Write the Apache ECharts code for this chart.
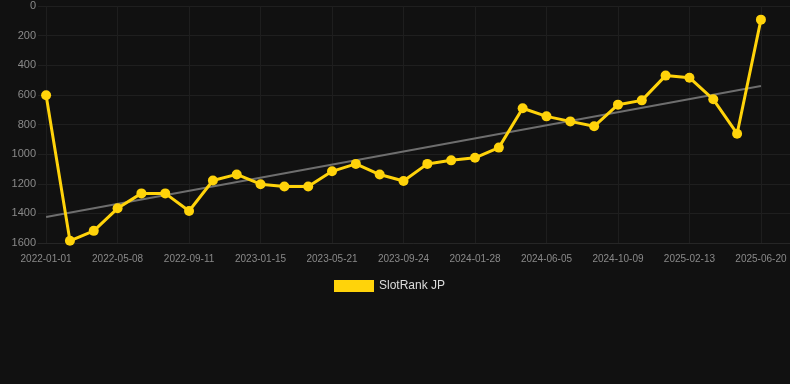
<!DOCTYPE html>
<html>
<head>
<meta charset="utf-8">
<script src="https://cdn.jsdelivr.net/npm/echarts@6/dist/echarts.min.js"></script>
<style>
    html, body { margin: 0; padding: 0; background: #111111; }
    #rankChart { width: 790px; height: 384px; }
</style>
</head>
<body>
<div id="rankChart"></div>
<script>
var seriesName = 'SlotRank JP';
var lineColor = '#FFD30A';
var trendColor = '#6E6E6E';

var dates = ['2022-01-01','2022-02-12','2022-03-26','2022-05-08','2022-06-19','2022-07-31',
    '2022-09-11','2022-10-23','2022-12-04','2023-01-15','2023-02-26','2023-04-09',
    '2023-05-21','2023-07-02','2023-08-13','2023-09-24','2023-11-05','2023-12-17',
    '2024-01-28','2024-03-11','2024-04-23','2024-06-05','2024-07-17','2024-08-28',
    '2024-10-09','2024-11-20','2025-01-01','2025-02-13','2025-03-27','2025-05-08',
    '2025-06-20'];
var ranks = [602,1585,1518,1366,1265,1265,1384,1178,1137,1203,
    1219,1219,1116,1066,1138,1181,1066,1042,1025,956,
    690,745,779,812,666,637,470,484,630,862,
    92];
// trend line: only the two ends
var trendEnds = [1425, 540];

var yTicks = [0, 200, 400, 600, 800, 1000, 1200, 1400, 1600];
// every third date gets a label
var labelIdx = [0, 3, 6, 9, 12, 15, 18, 21, 24, 27, 30];

window.onload = function () {
    drawRank('rankChart');
};

function drawRank(mid) {
    var rankData = ranks.map(function (v, i) { return [i, v]; });
    var trendData = [[0, trendEnds[0]], [dates.length - 1, trendEnds[1]]];

    var chart = echarts.init(document.getElementById(mid));
    var option = {
        backgroundColor: '#111111',
        animation: false,
        textStyle: { fontFamily: 'Liberation Sans, Arial, sans-serif' },
        grid: {
            left: 38,
            right: 0,
            top: 6,
            bottom: 141
        },
        legend: {
            top: 275,
            left: 329,
            itemWidth: 40,
            itemHeight: 12,
            data: [{ name: seriesName, icon: 'rect' }],
            textStyle: {
                color: '#dddddd',
                fontSize: 12
            }
        },
        xAxis: {
            type: 'value',
            // a little padding on both sides, as in the original
            min: -0.34,
            max: 31.22,
            axisTick: { show: false, customValues: labelIdx },
            axisLine: {
                show: true,
                onZero: false,
                lineStyle: { color: '#262626' }
            },
            axisLabel: {
                customValues: labelIdx,
                color: '#8a8a8a',
                fontSize: 10,
                margin: 11,
                formatter: function (v) { return dates[Math.round(v)] || ''; }
            },
            splitLine: {
                show: true,
                lineStyle: { color: '#1e1e1e' }
            }
        },
        yAxis: {
            type: 'value',
            inverse: true,
            min: yTicks[0],
            max: yTicks[yTicks.length - 1],
            interval: 200,
            axisTick: { show: false },
            axisLine: { show: false },
            axisLabel: {
                color: '#8a8a8a',
                fontSize: 11,
                margin: 2,
                formatter: function (v) { return String(v); }
            },
            splitLine: {
                lineStyle: { color: '#1f1f1f' }
            }
        },
        series: [{
            name: 'trend',
            type: 'line',
            data: trendData,
            symbol: 'none',
            silent: true,
            lineStyle: { color: trendColor, width: 2 },
            z: 1
        }, {
            name: seriesName,
            type: 'line',
            data: rankData,
            symbol: 'circle',
            symbolSize: 10,
            showAllSymbol: true,
            itemStyle: { color: lineColor },
            lineStyle: { color: lineColor, width: 3 },
            z: 2
        }]
    };
    chart.setOption(option);
    window.addEventListener('resize', function () {
        chart.resize();
    });
}
</script>
</body>
</html>
